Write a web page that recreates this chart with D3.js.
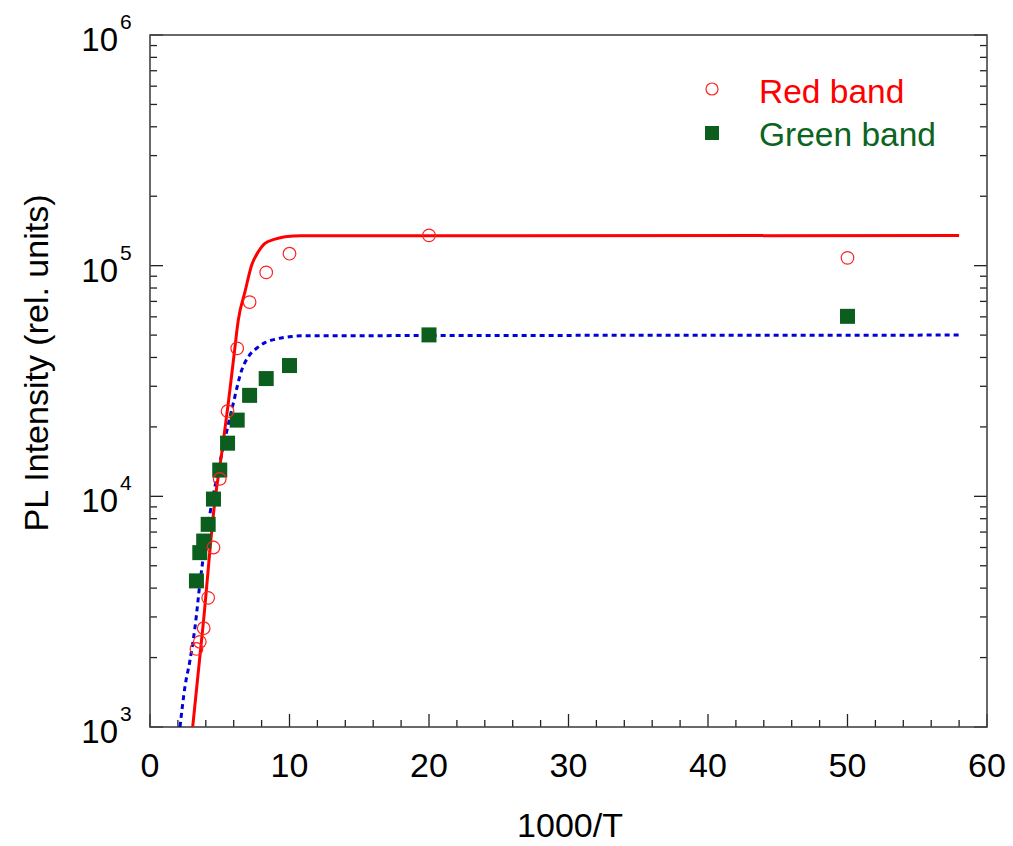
<!DOCTYPE html>
<html>
<head>
<meta charset="utf-8">
<script src="https://cdn.jsdelivr.net/npm/d3@7"></script>
<style>
  body { margin: 0; background: #fff; }
  text { font-family: "Liberation Sans", Arial, sans-serif; }
</style>
</head>
<body>
<div id="chart"></div>
<script>
// measured points, x = 1000/T
const redX = [3.33, 3.57, 3.85, 4.17, 4.55, 5.0, 5.56, 6.25, 7.14, 8.33, 10, 20, 50]
const redY = [2180, 2340, 2680, 3630, 6000, 11900, 23400, 43800, 69500, 93500, 112700, 135300, 108100]
const greenX = [3.33, 3.57, 3.85, 4.17, 4.55, 5.0, 5.56, 6.25, 7.14, 8.33, 10, 20, 50]
const greenY = [4300, 5700, 6400, 7560, 9730, 13000, 17000, 21400, 27400, 32400, 36900, 50100, 60300]

// fit curves
const redFitX = [3.06, 3.82, 4.66, 5.14, 5.61, 6.04, 6.33, 6.81, 7.29, 7.76, 8.24, 8.96, 9.68, 10.87, 58]
const redFitY = [1000, 2820, 9640, 15350, 25300, 41700, 58100, 77100, 100700, 114800, 125000, 130300, 133400, 134900, 135000]
const blueFitX = [2.15, 2.51, 2.87, 3.23, 3.58, 4.30, 4.90, 5.97, 6.57, 7.05, 7.65, 8.24, 8.96, 10.04, 10.82, 58]
const blueFitY = [1000, 1500, 1950, 2720, 4200, 8430, 13000, 25300, 35200, 40300, 43850, 46350, 47970, 49200, 49660, 50000]

const xTicks = [0, 10, 20, 30, 40, 50, 60]
const yTicks = [1e3, 1e4, 1e5, 1e6]
const legendItems = ["Red band", "Green band"]

const W = 1013, H = 846
const m = { left: 150, right: 26, top: 35, bottom: 119 }

const svg = d3.select('#chart').append('svg')
    .attr('width', W)
    .attr('height', H)

const x = d3.scaleLinear().domain([0, 60]).range([m.left, W - m.right])
const y = d3.scaleLog().domain([1e3, 1e6]).range([H - m.bottom, m.top])

const x0 = m.left, x1 = W - m.right, y0 = H - m.bottom, y1 = m.top

// minor + major ticks
let minorY = []
for (let e = 3; e < 6; e++) for (let k = 2; k <= 9; k++) minorY.push(k * Math.pow(10, e))
let minorX = d3.range(0, 61, 2).filter(v => v % 10 !== 0)

const tickG = svg.append('g').attr('stroke', '#222').attr('stroke-width', 1.3)
yTicks.forEach(v => {
    tickG.append('line').attr('x1', x0).attr('x2', x0 + 13).attr('y1', y(v)).attr('y2', y(v))
    tickG.append('line').attr('x1', x1).attr('x2', x1 - 13).attr('y1', y(v)).attr('y2', y(v))
})
minorY.forEach(v => {
    tickG.append('line').attr('x1', x0).attr('x2', x0 + 7).attr('y1', y(v)).attr('y2', y(v))
    tickG.append('line').attr('x1', x1).attr('x2', x1 - 7).attr('y1', y(v)).attr('y2', y(v))
})
xTicks.forEach(v => {
    tickG.append('line').attr('x1', x(v)).attr('x2', x(v)).attr('y1', y0).attr('y2', y0 - 13)
})
minorX.forEach(v => {
    tickG.append('line').attr('x1', x(v)).attr('x2', x(v)).attr('y1', y0).attr('y2', y0 - 7)
})

// frame
svg.append('rect')
    .attr('x', x0).attr('y', y1)
    .attr('width', x1 - x0).attr('height', y0 - y1)
    .attr('fill', 'none')
    .attr('stroke', '#444')
    .attr('stroke-width', 1.6)

// tick labels
svg.append('g').selectAll('text').data(xTicks)
    .enter().append('text')
    .attr('x', d => x(d))
    .attr('y', y0 + 50)
    .attr('text-anchor', 'middle')
    .attr('font-size', 34)
    .text(d => d)

svg.append('g').selectAll('text').data(yTicks)
    .enter().append('text')
    .attr('x', 118)
    .attr('y', d => y(d) + 16)
    .attr('text-anchor', 'end')
    .attr('font-size', 33)
    .text('10')
svg.append('g').selectAll('text').data(yTicks)
    .enter().append('text')
    .attr('x', 120)
    .attr('y', d => y(d) - 6)
    .attr('font-size', 21)
    .text(d => Math.round(Math.log10(d)))

// axis titles
svg.append('text')
    .attr('x', 570)
    .attr('y', 837)
    .attr('text-anchor', 'middle')
    .attr('font-size', 34)
    .text('1000/T')

svg.append('text')
    .attr('transform', `translate(48, 363) rotate(-90)`)
    .attr('text-anchor', 'middle')
    .attr('font-size', 34)
    .text('PL Intensity (rel. units)')

// clip curves to plot area
svg.append('clipPath').attr('id', 'clip')
    .append('rect').attr('x', x0).attr('y', y1).attr('width', x1 - x0).attr('height', y0 - y1)

const line = d3.line()
    .x(d => x(d[0]))
    .y(d => y(d[1]))
    .curve(d3.curveMonotoneX)

svg.append('path')
    .datum(d3.zip(blueFitX, blueFitY))
    .attr('clip-path', 'url(#clip)')
    .attr('d', line)
    .attr('fill', 'none')
    .attr('stroke', '#0000dd')
    .attr('stroke-width', 3)
    .attr('stroke-dasharray', '5,4')

svg.append('path')
    .datum(d3.zip(redFitX, redFitY))
    .attr('clip-path', 'url(#clip)')
    .attr('d', line)
    .attr('fill', 'none')
    .attr('stroke', '#ff0000')
    .attr('stroke-width', 3)

const sq = 15
svg.append('g').selectAll('rect').data(d3.zip(greenX, greenY))
    .enter().append('rect')
    .attr('x', d => x(d[0]) - sq / 2)
    .attr('y', d => y(d[1]) - sq / 2)
    .attr('width', sq)
    .attr('height', sq)
    .attr('fill', '#0b5e1e')

svg.append('g').selectAll('circle').data(d3.zip(redX, redY))
    .enter().append('circle')
    .attr('cx', d => x(d[0]))
    .attr('cy', d => y(d[1]))
    .attr('r', 6.3)
    .attr('fill', 'none')
    .attr('stroke', '#ff2020')
    .attr('stroke-width', 1.2)

// legend
svg.append('circle')
    .attr('cx', 712).attr('cy', 89).attr('r', 6)
    .attr('fill', 'none').attr('stroke', '#ff2020').attr('stroke-width', 1.2)
svg.append('rect')
    .attr('x', 705).attr('y', 126).attr('width', 14).attr('height', 14)
    .attr('fill', '#0b5e1e')

svg.append('g').selectAll('text').data(legendItems)
    .enter().append('text')
    .attr('x', 759)
    .attr('y', (d, i) => 103 + i * 43)
    .attr('font-size', 33.5)
    .attr('fill', (d, i) => i === 0 ? '#ff0000' : '#0b6420')
    .text(d => d)
</script>
</body>
</html>
